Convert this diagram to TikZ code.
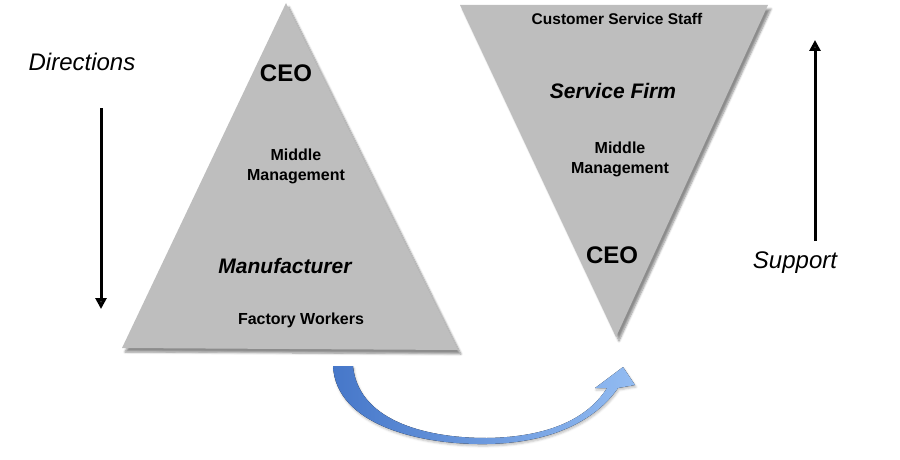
\documentclass[tikz,border=0pt]{standalone}
\usepackage{fontspec}
\setmainfont{Liberation Sans}
\usetikzlibrary{shadows.blur,arrows.meta}
\definecolor{trigray}{HTML}{BEBEBE}
\definecolor{arrowdark}{HTML}{4677C9}
\definecolor{arrowlight}{HTML}{93BCF2}
\tikzset{
  tri/.style={fill=trigray, draw=none, blur shadow={shadow xshift=3pt, shadow yshift=-4pt, shadow blur steps=6, shadow opacity=45}},
  lvl/.style={font=\bfseries\fontsize{16}{18}\selectfont, align=center, inner sep=0pt},
  boss/.style={font=\bfseries\fontsize{24}{26}\selectfont, inner sep=0pt},
  firm/.style={font=\bfseries\itshape\fontsize{21}{24}\selectfont, inner sep=0pt},
  side/.style={font=\itshape\fontsize{24}{26}\selectfont, inner sep=0pt},
  flow/.style={line width=3pt, -{Triangle[length=11pt,width=11pt]}}
}
\begin{document}
\begin{tikzpicture}[x=1pt,y=-1pt]
\useasboundingbox (0,0) rectangle (900,460);
% triangles
\path[tri] (286,3) -- (458,350) -- (122,348) -- cycle;
\path[tri] (460,5) -- (768,5) -- (616,337) -- cycle;
% left triangle texts
\node[boss] (ceoL) at (286,73) {CEO};
\node[lvl] (midL) at (296,166) {Middle\\[2pt]Management};
\node[firm] (manu) at (285,266) {Manufacturer};
\node[lvl] (fact) at (301,320) {Factory Workers};
% right triangle texts
\node[lvl, font=\bfseries\fontsize{15.5}{18}\selectfont] (cust) at (617,19) {Customer Service Staff};
\node[firm] (serv) at (613,91) {Service Firm};
\node[lvl] (midR) at (620,159) {Middle\\[2pt]Management};
\node[boss] (ceoR) at (612,255) {CEO};
% side labels and arrows
\node[side] (dir) at (82,62) {Directions};
\coordinate (dtop) at (101,108);
\coordinate (dbot) at (101,309);
\draw[flow] (dtop) -- (dbot);
\node[side] (sup) at (795,263) {Support};
\coordinate (ubot) at (815,241);
\coordinate (utop) at (815,40);
\draw[flow] (ubot) -- (utop);
% curved blue arrow
\coordinate (ctip) at (623,367);
\fill[left color=arrowdark, right color=arrowlight, blur shadow={shadow xshift=1pt, shadow yshift=-2pt, shadow blur steps=4, shadow opacity=25}]
  (333,366) .. controls (336,425) and (420,445) .. (487,444)
  .. controls (552,443) and (596,420) .. (618,388)
  -- (635,385) -- (ctip) -- (595,388) -- (607,388)
  .. controls (588,418) and (550,437) .. (487,438)
  .. controls (420,438) and (358,418) .. (353,366) -- cycle;
\end{tikzpicture}
\end{document}
